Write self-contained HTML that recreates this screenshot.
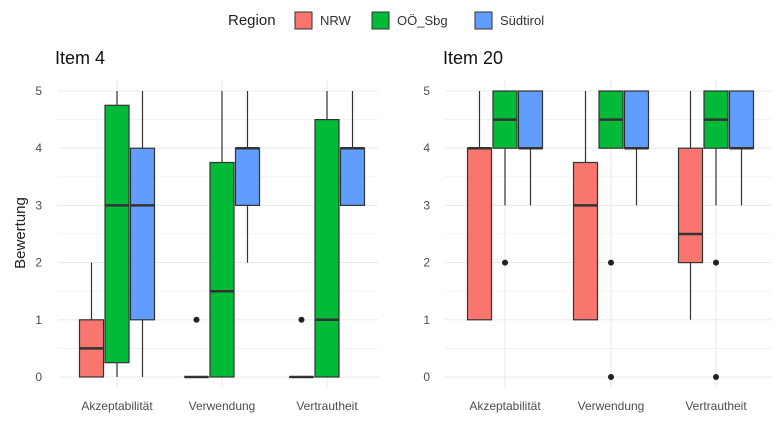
<!DOCTYPE html>
<html><head><meta charset="utf-8"><style>
body{margin:0;background:#fff;font-family:"Liberation Sans",Arial,sans-serif}
svg{display:block}
</style></head><body>
<svg id="c" width="783" height="434" xmlns="http://www.w3.org/2000/svg">
<g>
<text x="228" y="25" font-size="15" fill="#222">Region</text>
<rect x="295" y="12" width="17" height="17" fill="#F8766D" stroke="#333"/>
<text x="320" y="25" font-size="13" fill="#333">NRW</text>
<rect x="372" y="12" width="17" height="17" fill="#00BA38" stroke="#333"/>
<text x="397" y="25" font-size="13" fill="#333">OÖ_Sbg</text>
<rect x="475" y="12" width="17" height="17" fill="#619CFF" stroke="#333"/>
<text x="500" y="25" font-size="13" fill="#333">Südtirol</text>
</g>
<text x="25" y="233" font-size="15" fill="#222" transform="rotate(-90 25 233)" text-anchor="middle">Bewertung</text>
</svg>
<script>
const categories=["Akzeptabilität","Verwendung","Vertrautheit"];
const regions=["NRW","OÖ_Sbg","Südtirol"];
const colors=["#F8766D","#00BA38","#619CFF"];
const panelTitles=["Item 4","Item 20"];
const yTicks=[0,1,2,3,4,5];
// [min,q1,median,q3,max] per category per region
const item4Stats=[
 [[0,0,0.5,1,2],[0,0.25,3,4.75,5],[0,1,3,4,5]],
 [[0,0,0,0,0],[0,0,1.5,3.75,5],[2,3,4,4,5]],
 [[0,0,0,0,0],[0,0,1,4.5,5],[3,3,4,4,5]]
];
const item4Outliers=[[[],[],[]],[[1],[],[]],[[1],[],[]]];
const item20Stats=[
 [[1,1,4,4,5],[3,4,4.5,5,5],[3,4,4,5,5]],
 [[1,1,3,3.75,5],[4,4,4.5,5,5],[3,4,4,5,5]],
 [[1,2,2.5,4,5],[3,4,4.5,5,5],[3,4,4,5,5]]
];
const item20Outliers=[[[],[2],[]],[[],[2,0],[]],[[],[2,0],[]]];
const svg=document.getElementById('c');const NS="http://www.w3.org/2000/svg";
function mk(t,a,p){const e=document.createElementNS(NS,t);for(const k in a)e.setAttribute(k,a[k]);(p||svg).appendChild(e);return e;}
const y=v=>377-v*57.2;
const panels=[{x0:58,x1:378,cx:[117,222,327],tx:55,stats:item4Stats,out:item4Outliers,lab:42},
 {x0:445,x1:772,cx:[505,611,716],tx:443,stats:item20Stats,out:item20Outliers,lab:430}];
panels.forEach((P,pi)=>{
 const g=mk('g',{});
 
 
 const t=mk('text',{x:P.tx,y:64,'font-size':18,fill:'#111'},g);t.textContent=panelTitles[pi];
 
 
 for(let v=0;v<=5;v+=0.5)mk('line',{x1:P.x0,x2:P.x1,y1:y(v),y2:y(v),stroke:'#ebebeb','stroke-width':v%1?0.6:1.1},g);
 P.cx.forEach(c=>mk('line',{x1:c,x2:c,y1:80,y2:388,stroke:'#ebebeb','stroke-width':1.1},g));
 yTicks.forEach(v=>{const l=mk('text',{x:P.lab,y:y(v)+4,'font-size':12,fill:'#4d4d4d','text-anchor':'end'},g);l.textContent=v;
  
  });
 categories.forEach((cat,ci)=>{
  const l=mk('text',{x:P.cx[ci],y:410,'font-size':12,fill:'#4d4d4d','text-anchor':'middle'},g);l.textContent=cat;
  
  
  regions.forEach((r,ri)=>{
   const s=P.stats[ci][ri];const xc=P.cx[ci]+(ri-1)*25.5;const w=24;
   const b=mk('g',{},g);
   
   
   mk('line',{x1:xc,x2:xc,y1:y(s[0]),y2:y(s[4]),stroke:'#333','stroke-width':1.2},b);
   mk('rect',{x:xc-w/2,y:y(s[3]),width:w,height:Math.max(0.01,y(s[1])-y(s[3])),fill:colors[ri],stroke:'#333','stroke-width':1.2},b);
   mk('line',{x1:xc-w/2,x2:xc+w/2,y1:y(s[2]),y2:y(s[2]),stroke:'#333','stroke-width':2.5},b);
   P.out[ci][ri].forEach(o=>{const d=mk('circle',{cx:xc,cy:y(o),r:3,fill:'#222'},b);
    
    });
  });
 });
});
</script>
</body></html>
